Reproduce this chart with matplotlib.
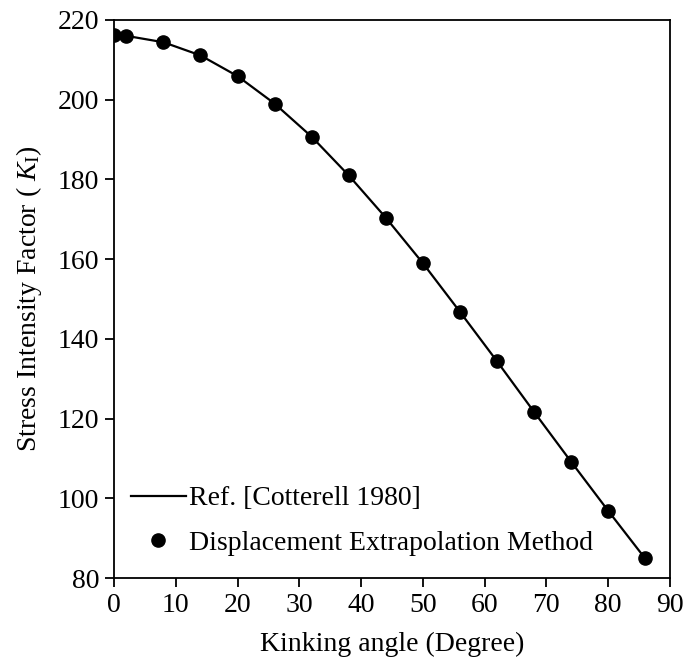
import numpy as np
import matplotlib
matplotlib.use("Agg")
import matplotlib.pyplot as plt

plt.rcParams['font.family'] = ['Liberation Serif', 'DejaVu Serif']
plt.rcParams['mathtext.fontset'] = 'custom'
plt.rcParams['mathtext.rm'] = 'Liberation Serif'
plt.rcParams['mathtext.it'] = 'Liberation Serif:italic'

# kinking angle (degree)
angulo = [0, 2, 8, 14, 20, 26, 32, 38, 44, 50, 56, 62, 68, 74, 80, 86]
# Ref. [Cotterell 1980]
ref_cotterell = [216.2, 216.0, 214.4, 211.1, 205.9, 199.0, 190.7, 181.0,
                 170.4, 159.0, 146.8, 134.4, 121.7, 109.2, 96.9, 84.9]
# displacement extrapolation method
desplazamiento = [216.2, 216.0, 214.4, 211.1, 205.9, 199.0, 190.7, 181.0,
                  170.4, 159.0, 146.8, 134.4, 121.7, 109.2, 96.9, 84.9]

fs = 20
fig = plt.figure(figsize=(6.87, 6.64), dpi=100)
ax = fig.add_axes([0.166, 0.1295, 0.809, 0.8405])

ax.plot(angulo, ref_cotterell, color='black', lw=1.6, label='Ref. [Cotterell 1980]')
ax.plot(angulo, desplazamiento, 'o', color='black', ms=9.5, label='Displacement Extrapolation Method')

ax.set_xlim(0, 90)
ax.set_ylim(80, 220)
ax.set_xticks(np.arange(0, 91, 10))
ax.set_yticks(np.arange(80, 221, 20))
ax.tick_params(direction='out', length=6.5, width=1.3, labelsize=fs, pad=4)
for s in ax.spines.values():
    s.set_linewidth(1.3)

ax.set_xlabel('Kinking angle (Degree)', fontsize=fs, labelpad=10)
ax.set_ylabel(r'Stress Intensity Factor ( $K_\mathrm{I}$)', fontsize=fs, labelpad=10)

ax.legend(loc='lower left', bbox_to_anchor=(0.03, 0.04), frameon=False,
          fontsize=fs, handlelength=2.0, handletextpad=0.1, labelspacing=0.68,
          borderpad=0, borderaxespad=0)

plt.savefig('out.png', dpi=100)
